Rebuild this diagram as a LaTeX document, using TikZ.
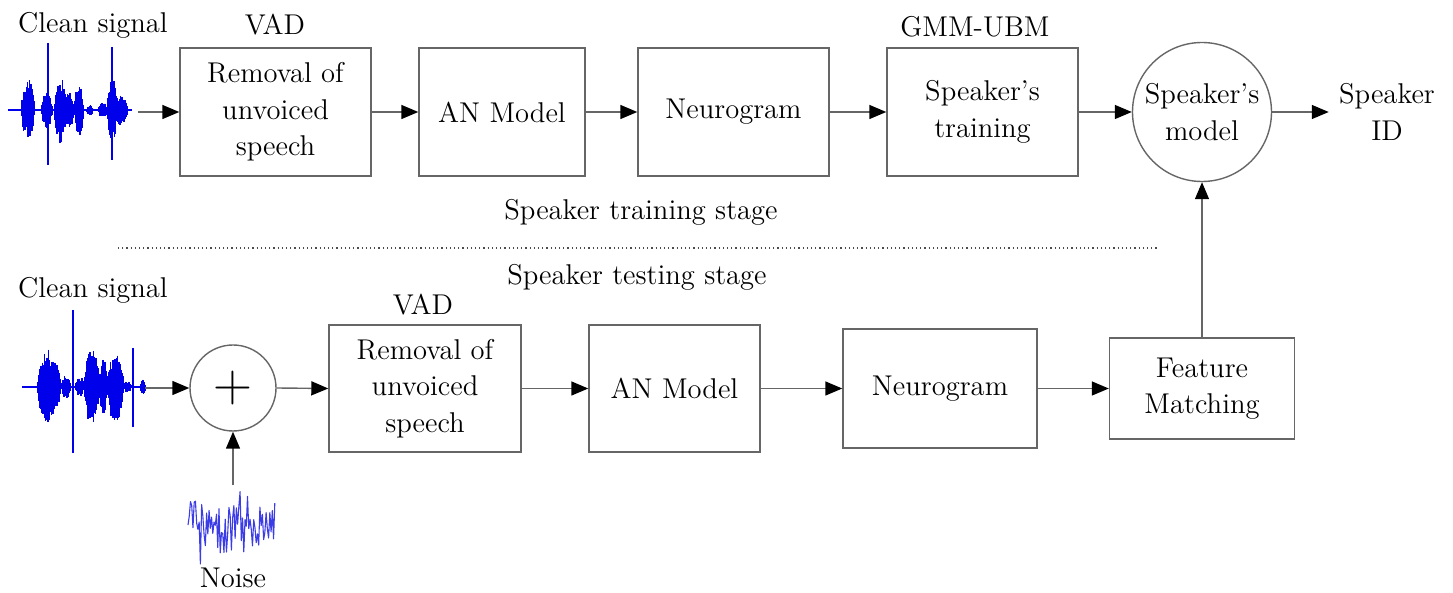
\documentclass[tikz,border=0pt]{standalone}
\usepackage{fontspec}
\usetikzlibrary{arrows.meta}
\newcommand\wburst[4]{%
  \foreach \xx in {#1,#1.5,...,#2}{%
    \pgfmathsetmacro\hA{#3*(0.45+0.55*rnd)*sqrt(sin(180*(\xx-#1+0.5)/(#2-#1+1)))}%
    \pgfmathsetmacro\hB{#3*(0.45+0.55*rnd)*sqrt(sin(180*(\xx-#1+0.5)/(#2-#1+1)))}%
    \draw[wave] (\xx,#4-\hA) -- (\xx,#4+\hB);
  }}
\begin{document}
\begin{tikzpicture}[x=0.5pt,y=-0.5pt,
  font=\rmfamily\fontsize{14.3}{18.3}\selectfont,
  ln/.style={draw=black!60, line width=0.7pt},
  box/.style={ln, rectangle, align=center, inner sep=0pt, minimum height=64pt},
  circ/.style={ln, circle, align=center, inner sep=0pt},
  arr/.style={ln, -{Triangle[length=8.5pt,width=7pt,color=black,fill=black]}},
  lab/.style={inner sep=0pt, align=center},
  wave/.style={draw={rgb,255:red,0;green,0;blue,235}, line width=0.9pt},
  noisew/.style={draw={rgb,255:red,60;green,60;blue,230}, line width=0.55pt, line join=round},
  hold/.style={inner sep=0pt, minimum width=#1},
  dotline/.style={draw=black!70, line width=0.7pt, dash pattern=on 0.6pt off 1.5pt},
]
\useasboundingbox (0,0) rectangle (1453,593);
\pgfmathsetseed{7}

% ---------- training stage ----------
\node[lab] (cs1) at (93,25) {Clean signal};
\node[hold=68pt, minimum height=60pt] (w1) at (70,112) {};
\draw[wave, line width=0.6pt] (8,110) -- (132,110);
\wburst{22}{34}{31}{110}
\wburst{42}{52}{18}{110}
\draw[wave, line width=1.2pt] (48,43) -- (48,165);
\wburst{55}{66}{34}{110}
\wburst{66}{73}{20}{110}
\wburst{75}{83}{27}{110}
\wburst{87}{93}{5}{110}
\wburst{99}{107}{8}{110}
\wburst{108}{116}{35}{110}
\draw[wave, line width=1.2pt] (112,47) -- (112,160);
\wburst{114}{127}{15}{110}

\node[box, minimum width=95.5pt] (b1) at (275.5,112) {Removal of\\unvoiced\\speech};
\node[lab] (vad1) at (275,25) {VAD};
\node[box, minimum width=83pt] (b2) at (502,112) {AN Model};
\node[box, minimum width=95.5pt] (b3) at (733.5,112) {Neurogram};
\node[box, minimum width=95.5pt] (b4) at (982.5,112) {Speaker’s\\training};
\node[lab] (gmm) at (975,27) {GMM-UBM};
\node[circ, minimum size=69.5pt] (c1) at (1202,112) {Speaker’s\\model};
\node[lab] (id) at (1387,112) {Speaker\\ID};

\draw[arr] (w1.east) -- (b1.west);
\draw[arr] (b1.east) -- (b2.west);
\draw[arr] (b2.east) -- (b3.west);
\draw[arr] (b3.east) -- (b4.west);
\draw[arr] (b4.east) -- (c1.west);
\draw[arr] (c1.east) -- ([xshift=-5pt]id.west);

\node[lab] (trs) at (641,212) {Speaker training stage};
\coordinate (dl) at (118,248);
\coordinate (dr) at (1158,248);
\draw[dotline] (dl) -- (dr);
\node[lab] (tes) at (637,277) {Speaker testing stage};

% ---------- testing stage ----------
\node[lab] (cs2) at (93,290) {Clean signal};
\node[hold=62pt, minimum height=70pt] (w2) at (83,388) {};
\draw[wave, line width=0.6pt] (22,387) -- (145,387);
\wburst{38}{60}{38}{387}
\wburst{62}{70}{12}{387}
\draw[wave, line width=1.4pt] (73,310) -- (73,453);
\wburst{76}{84}{10}{387}
\wburst{85}{99}{42}{387}
\wburst{100}{107}{28}{387}
\wburst{108}{123}{36}{387}
\wburst{124}{131}{6}{387}
\draw[wave, line width=1pt] (133,348) -- (133,427);
\wburst{141}{145}{8}{387}

\node[circ, minimum size=43pt, font=\rmfamily\fontsize{27}{27}\selectfont] (plus) at (233,388) {+};

\node[hold=44pt, minimum height=40pt] (nz) at (233,525) {};
\draw[noisew] (188,525) \foreach \i in {1,...,70}{ -- ({188+\i*1.24},{525+(rnd-0.5)*(40+40*rnd)}) };
\node[lab] (noise) at (233,578) {Noise};

\node[box, minimum width=96pt, minimum height=63.5pt] (b5) at (425,388.5) {Removal of\\unvoiced\\speech};
\node[lab] (vad2) at (423,305) {VAD};
\node[box, minimum width=85.5pt, minimum height=63.5pt] (b6) at (674.5,388.5) {AN Model};
\node[box, minimum width=97pt, minimum height=59.5pt] (b7) at (940,388.5) {Neurogram};
\node[box, minimum width=92.5pt, minimum height=50.5pt] (b8) at (1202,388.5) {Feature\\Matching};

\draw[arr] (w2.east) -- (plus.west);
\draw[arr] (nz.north) -- (plus.south);
\draw[arr] (plus.east) -- (b5.west);
\draw[arr] (b5.east) -- (b6.west);
\draw[arr] (b6.east) -- (b7.west);
\draw[arr] (b7.east) -- (b8.west);
\draw[arr] (b8.north) -- (c1.south);
\end{tikzpicture}
\end{document}
